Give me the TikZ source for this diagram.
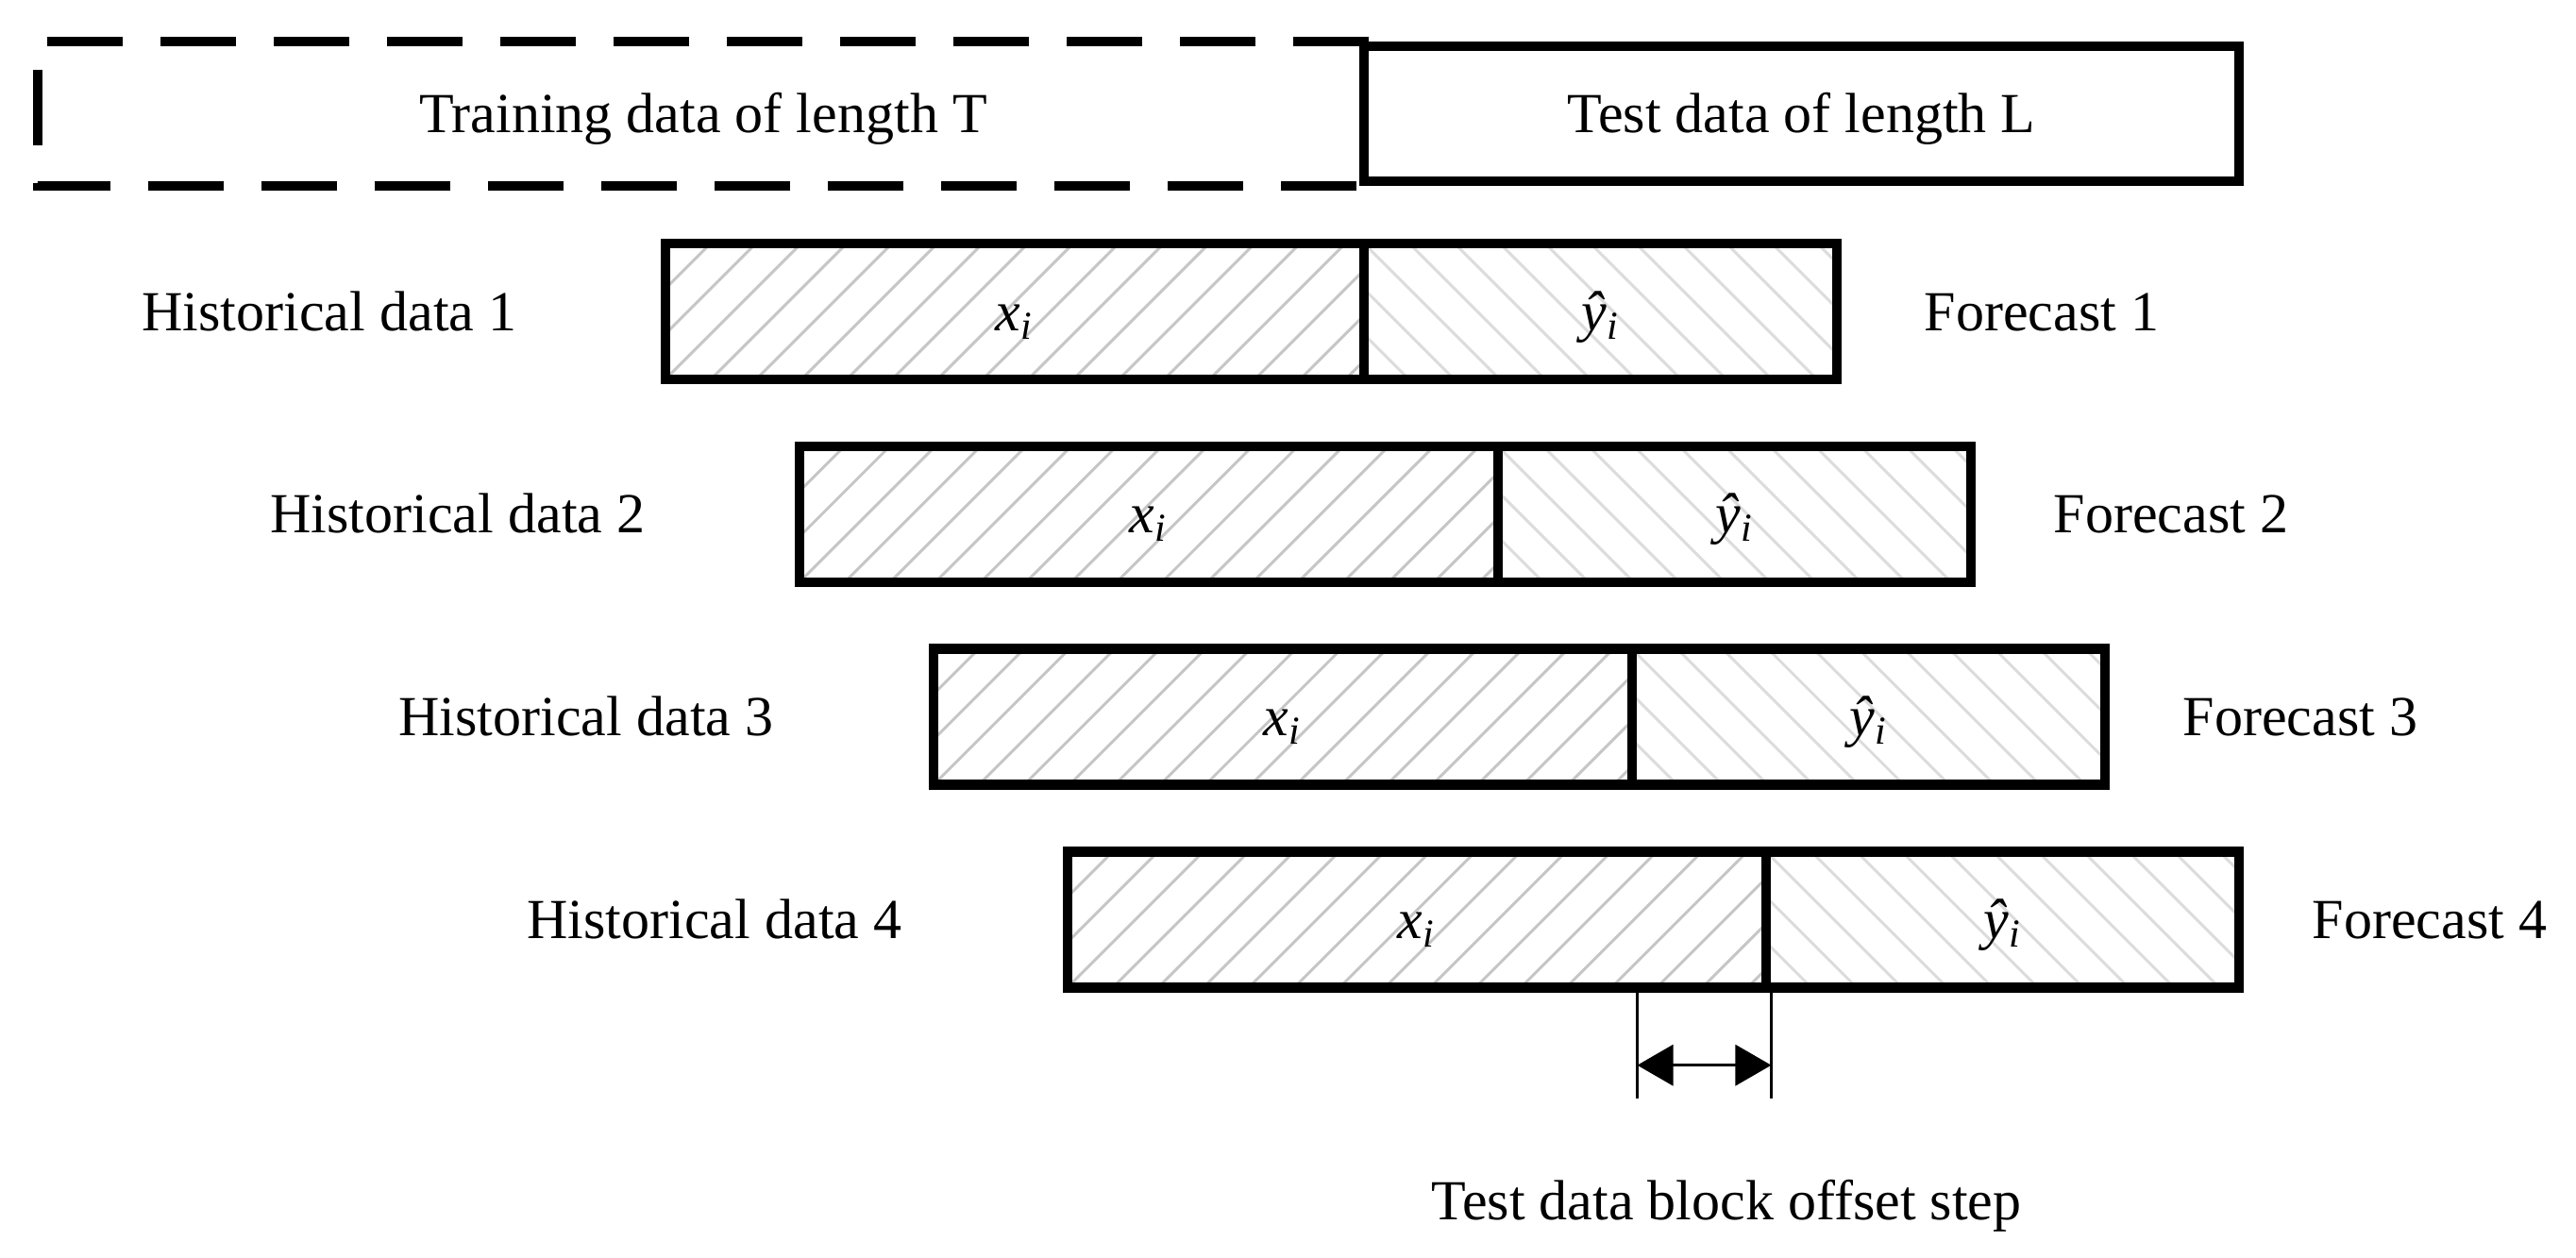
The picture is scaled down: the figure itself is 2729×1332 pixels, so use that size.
\documentclass[tikz,border=0pt]{standalone}
\usepackage{fontspec}
\setmainfont{Liberation Serif}
\usetikzlibrary{arrows.meta,calc}
\definecolor{hatchA}{RGB}{198,198,198}
\definecolor{hatchB}{RGB}{220,220,220}
\newcommand\xsubi{\textit{x}\textsubscript{\textit{i}}}
\newcommand\yhati{\textit{ŷ}\textsubscript{\textit{i}}}
\begin{document}
\begin{tikzpicture}[x=0.01cm,y=-0.01cm,
  font=\fontsize{17.07pt}{20pt}\selectfont,
  tx/.style={inner sep=0pt,text height=0.45cm,text depth=0.05cm},
  box/.style={draw,line width=2.99pt,inner sep=0pt,minimum height=1.44cm,tx},
  topbox/.style={inner sep=0pt,minimum height=1.43cm,line width=2.85pt,tx},
  hatchne/.style={path picture={
    \foreach \k in {-4,...,17}{
      \draw[hatchA,line width=0.03cm]
        ([xshift=\k*0.48cm]path picture bounding box.south west) -- ++(1.8cm,1.8cm);}}},
  hatchnw/.style={path picture={
    \foreach \k in {-4,...,12}{
      \draw[hatchB,line width=0.03cm]
        ([xshift=\k*0.48cm]path picture bounding box.north west) -- ++(1.8cm,-1.8cm);}}},
  dimline/.style={line width=1pt},
  dimarrow/.style={line width=1pt,{Triangle[length=0.38cm,width=0.43cm]}-{Triangle[length=0.38cm,width=0.43cm]}}
]
\useasboundingbox (0,0) rectangle (2729,1332);

% top boxes
\node[topbox,minimum width=14cm] (train) at (745,120.5) {Training data of length T};
\draw[line width=2.85pt,dash pattern=on 0.8cm off 0.4cm]
  (train.north east) -- (train.north west) -- (train.south west) -- (train.south east);
\node[topbox,draw,minimum width=9.27cm] (test) at (1908.5,120.5) {Test data of length L};

% rows
\foreach \k in {1,...,4}{
  \pgfmathsetmacro\xc{1075+142*(\k-1)}
  \pgfmathsetmacro\yc{1695.5+142*(\k-1)}
  \pgfmathsetmacro\rc{330+214.8*(\k-1)}
  \pgfmathsetmacro\hx{548+136*(\k-1)}
  \pgfmathsetmacro\fx{2038+137*(\k-1)}
  \node[box,hatchne,minimum width=7.4cm] (x\k) at (\xc,\rc) {\xsubi};
  \node[box,hatchnw,minimum width=5.01cm] (y\k) at (\yc,\rc) {\yhati};
  \node[tx,anchor=east] (h\k) at (\hx,\rc) {Historical data \k};
  \node[tx,anchor=west] (f\k) at (\fx,\rc) {Forecast \k};
}

% offset step dimension
\coordinate (dL) at (x3.east |- x4.south);
\coordinate (dR) at (x4.south east);
\coordinate (dLb) at ($(dL)+(0,112)$);
\coordinate (dRb) at ($(dR)+(0,112)$);
\coordinate (aL) at ($(dL)+(0,77)$);
\coordinate (aR) at ($(dR)+(0,77)$);
\draw[dimline] (dL) -- (dLb);
\draw[dimline] (dR) -- (dRb);
\draw[dimarrow] (aL) -- (aR);
\node[tx] (steplab) at (1829,1272) {Test data block offset step};
\end{tikzpicture}
\end{document}
